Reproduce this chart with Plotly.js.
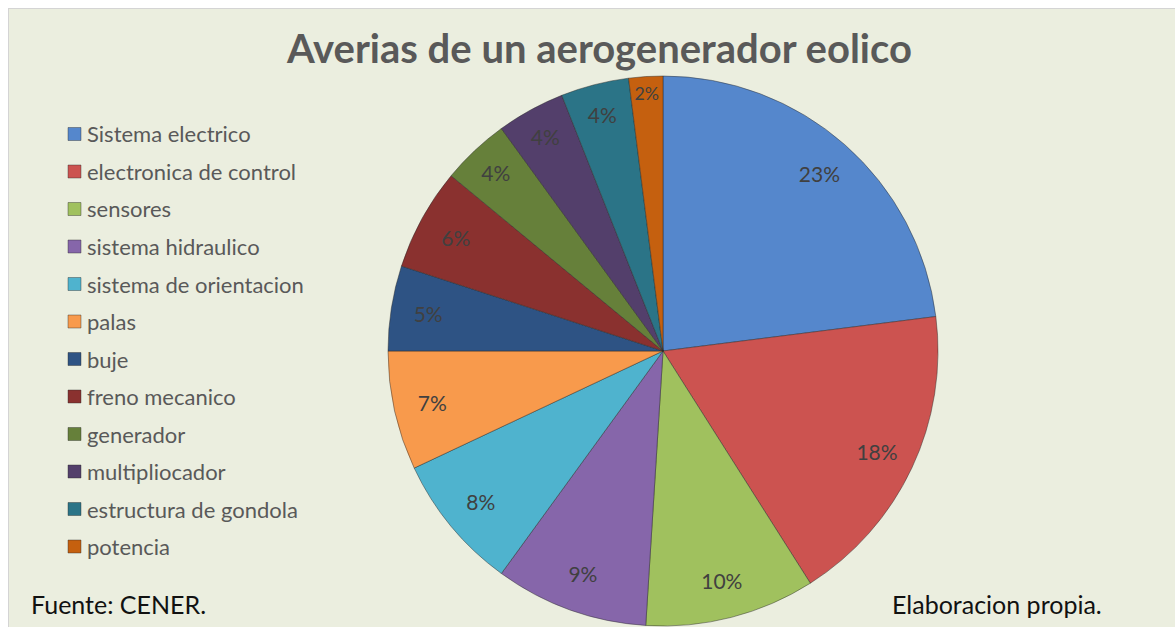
<!DOCTYPE html>
<html><head><meta charset="utf-8">
<script src="https://cdn.plot.ly/plotly-3.0.1.min.js"></script>
<style>
html,body{margin:0;padding:0;background:#ffffff;width:1175px;height:627px;overflow:hidden;}
#frame{position:absolute;left:8px;top:8px;width:1167px;height:619px;box-sizing:border-box;border:1px solid #D4D4D4;border-right:none;border-bottom:none;background:#EBEEDF;}
#chart{position:absolute;left:0;top:0;width:1166px;height:618px;}
</style></head>
<body><div id="frame"><div id="chart"></div></div>
<script>
const categories = ["Sistema electrico","electronica de control","sensores","sistema hidraulico","sistema de orientacion","palas","buje","freno mecanico","generador","multipliocador","estructura de gondola","potencia"];
const values = [23,18,10,9,8,7,5,6,4,4,4,2];
const colors = ["#5587CC","#CC5350","#A0C15E","#8666AA","#4FB3CE","#F89A4C","#2E5384","#8A312F","#66803A","#533F6B","#2B7487","#C5600F"];

const W = 1166, H = 618;
const FONT = "Lato, 'Open Sans', sans-serif";
// pie geometry (div px)
const cx = 654, cy = 342, R = 275;
const dom = {x:[(cx-R)/W,(cx+R)/W], y:[1-(cy+R)/H,1-(cy-R)/H]};

const pie = {
  type:'pie', labels:categories, values:values, sort:false, direction:'clockwise', rotation:0,
  marker:{colors:colors, line:{color:'rgba(40,40,40,0.45)', width:1}},
  textinfo:'none', hoverinfo:'label+percent', showlegend:false, domain:dom
};
const ring = {
  type:'pie', labels:categories, values:values, sort:false, direction:'clockwise', rotation:0,
  hole:0.72, marker:{colors:categories.map(()=> 'rgba(0,0,0,0)'), line:{width:0}},
  texttemplate:'%{percent:.0%}', textposition:'inside', insidetextorientation:'horizontal',
  textfont:{family:FONT, size:21, color:'#404040'},
  hoverinfo:'skip', showlegend:false, domain:dom
};

const annotations = [], shapes = [];
categories.forEach((c,i)=>{
  const ypx = 125 + i*37.5;
  const yp = 1 - ypx/H;
  shapes.push({type:'rect', xref:'paper', yref:'paper', x0:59/W, x1:72/W, y0:yp-6.5/H, y1:yp+6.5/H,
    fillcolor:colors[i], line:{color:'rgba(40,40,40,0.5)', width:0.8}});
  annotations.push({xref:'paper', yref:'paper', x:76/W, y:yp, xanchor:'left', yanchor:'middle',
    text:c, showarrow:false, font:{family:FONT, size:22, color:'#595959'}});
});
annotations.push({xref:'paper', yref:'paper', x:590/W, y:1-39/H, xanchor:'center', yanchor:'middle',
  text:'<b>Averias de un aerogenerador eolico</b>', showarrow:false, font:{family:FONT, size:40, color:'#595959'}});
annotations.push({xref:'paper', yref:'paper', x:20/W, y:1-595/H, xanchor:'left', yanchor:'middle',
  text:'Fuente: CENER.', showarrow:false, font:{family:FONT, size:25, color:'#111111'}});
annotations.push({xref:'paper', yref:'paper', x:881/W, y:1-595/H, xanchor:'left', yanchor:'middle',
  text:'Elaboracion propia.', showarrow:false, font:{family:FONT, size:25, color:'#111111'}});

const layout = {
  width:W, height:H, margin:{l:0,r:0,t:0,b:0},
  paper_bgcolor:'#EBEEDF', plot_bgcolor:'#EBEEDF',
  showlegend:false, annotations:annotations, shapes:shapes,
  font:{family:FONT}
};
Plotly.newPlot('chart',[pie,ring],layout,{displayModeBar:false,staticPlot:true});
</script></body></html>
